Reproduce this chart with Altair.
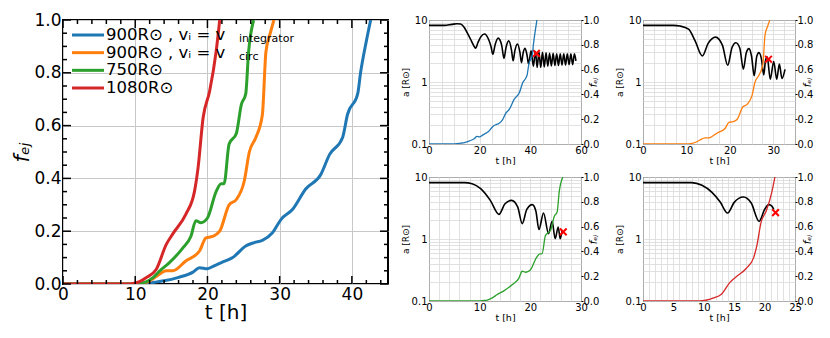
import altair as alt
import pandas as pd

FONT = "DejaVu Sans"

# ---------------- data: ejected fraction f_ej(t) ----------------
blue_t = [0, 10, 12, 13, 14, 16, 18, 18.9, 20, 21, 22, 23.5, 25.3, 26.5, 27.6, 29, 30.2, 31.8, 33.6, 35.7, 36.9, 38.7, 39.4, 40.8, 41.2, 42.0, 42.6]
blue_f = [0, 0, 0.004, 0.008, 0.012, 0.025, 0.045, 0.062, 0.058, 0.07, 0.082, 0.10, 0.144, 0.157, 0.165, 0.194, 0.245, 0.283, 0.36, 0.415, 0.49, 0.554, 0.643, 0.72, 0.80, 0.92, 1.0]

orange_t = [0, 10, 11, 12, 13, 14.3, 15.2, 17, 18.9, 19.8, 20.7, 21.7, 23, 24, 25.1, 25.8, 26.7, 27.6, 28.1, 28.7, 29.2]
orange_f = [0, 0, 0.003, 0.012, 0.03, 0.05, 0.05, 0.087, 0.125, 0.175, 0.18, 0.20, 0.30, 0.32, 0.39, 0.50, 0.555, 0.64, 0.88, 0.95, 1.0]

green_t = [0, 10, 11, 11.5, 12.5, 13.4, 14.7, 16.6, 17.7, 18.4, 19.1, 20, 21.2, 21.9, 22.3, 23, 24, 24.7, 25.3, 25.7, 26.4]
green_f = [0, 0, 0.004, 0.008, 0.025, 0.05, 0.08, 0.137, 0.18, 0.24, 0.232, 0.25, 0.35, 0.38, 0.38, 0.53, 0.57, 0.68, 0.72, 0.88, 1.0]

red_t = [0, 9, 9.7, 10.5, 11.5, 12.9, 14.3, 15.2, 17, 18.2, 18.7, 19.4, 20.3, 21.2, 21.7]
red_f = [0, 0, 0.002, 0.008, 0.024, 0.055, 0.15, 0.19, 0.264, 0.35, 0.44, 0.63, 0.73, 0.88, 1.0]

# ---------------- data: separation a(t) [R_sun] ----------------
tl_t = [0, 6, 9, 11, 12.5, 14, 15, 16.5, 17.6, 18.4, 19.3, 20.5, 21.9, 23.5, 24.5, 25.2, 26.1, 27.3, 28.7, 29.6, 30.4, 31.5, 32.6, 33.2, 33.9, 34.9, 35.9, 36.5, 37.2, 37.9, 38.7, 39.3,
        40.3, 41.2, 42.0, 42.7, 43.4, 44.1, 44.8, 45.5, 46.2, 46.9, 47.6, 48.3, 49.0, 49.7, 50.4, 51.1, 51.8, 52.5, 53.2, 53.9, 54.6, 55.3, 56.0, 56.7, 57.4, 58.0]
tl_a = [8.2, 8.2, 8.5, 8.7, 8.6, 7.5, 6.3, 4.8, 3.9, 3.5, 4.3, 5.4, 5.95, 4.9, 3.7, 2.8, 4.0, 5.1, 3.9, 2.4, 3.6, 4.6, 3.2, 2.2, 3.2, 4.1, 3.0, 2.05, 3.0, 3.5, 2.7, 1.95,
        3.2, 1.8, 3.1, 1.72, 3.05, 1.72, 3.0, 1.75, 2.95, 1.8, 2.9, 1.82, 2.9, 1.85, 2.85, 1.85, 2.85, 1.88, 2.85, 1.88, 2.85, 1.9, 2.85, 1.9, 2.85, 2.2]

tr_t = [0, 7, 8.5, 10.5, 12, 13.65, 15, 16.7, 18.3, 19.5, 20.5, 21.4, 22.3, 23.1, 23.8, 24.4, 25.0, 25.6, 26.2, 26.7, 27.3, 27.8, 28.2, 28.6, 29.3, 30.1, 30.8, 31.4, 32.0, 32.7]
tr_a = [8.2, 8.2, 8.0, 7.1, 4.6, 2.63, 4.2, 5.3, 3.9, 1.86, 3.6, 4.3, 3.5, 1.61, 3.0, 3.46, 2.6, 1.26, 2.6, 2.98, 2.3, 1.30, 2.2, 2.54, 1.11, 2.14, 1.11, 1.94, 1.14, 1.6]

bl_t = [0, 7, 8.5, 10.2, 12.1, 13.8, 15, 16.3, 17.5, 18.4, 19.3, 20.4, 21.1, 21.7, 22.6, 23.6, 24.3, 24.9, 25.5, 25.9, 26.3]
bl_a = [8.1, 8.1, 7.8, 6.5, 4.2, 2.5, 3.7, 4.2, 3.3, 1.77, 3.0, 3.58, 2.8, 1.42, 2.63, 1.22, 1.93, 1.01, 1.56, 1.01, 1.4]

br_t = [0, 8, 9.7, 11.3, 12.7, 13.9, 15.0, 16.5, 17.8, 19.1, 20.0, 20.7, 21.2, 21.5]
br_a = [8.1, 8.1, 7.35, 5.7, 3.95, 2.62, 3.9, 4.75, 3.8, 1.93, 3.0, 3.58, 3.4, 3.0]

# merger markers (t, a)
markers = {"tl": (42.4, 2.9), "tr": (28.9, 2.33), "bl": (26.5, 1.3), "br": (21.8, 2.66)}

# legend
leg_labels = ["900R\u2299 , v\u1d62 = v", "900R\u2299 , v\u1d62 = v", "750R\u2299", "1080R\u2299"]
leg_subs = ["integrator", "circ", "", ""]
leg_colors = ["#1f77b4", "#ff7f0e", "#2ca02c", "#d62728"]

# tick values
main_xmajor = [0, 10, 20, 30, 40]
main_xminor = [2, 4, 6, 8, 12, 14, 16, 18, 22, 24, 26, 28, 32, 34, 36, 38, 42, 44]
main_ymajor = [0.0, 0.2, 0.4, 0.6, 0.8, 1.0]
main_yminor = [0.05, 0.1, 0.15, 0.25, 0.3, 0.35, 0.45, 0.5, 0.55, 0.65, 0.7, 0.75, 0.85, 0.9, 0.95]
log_grid = [0.1, 0.2, 0.3, 0.4, 0.5, 0.6, 0.7, 0.8, 0.9, 1, 2, 3, 4, 5, 6, 7, 8, 9, 10]

BLUE, ORANGE, GREEN, RED = leg_colors

# ---------------- main panel ----------------
W, H = 325, 264
xs = alt.Scale(domain=[0, 45], nice=False, zero=False)
ys = alt.Scale(domain=[0, 1], nice=False)
xax = alt.Axis(values=main_xmajor, grid=True, gridColor="#c8c8c8", gridWidth=1, tickSize=0, domain=False,
               labelFontSize=17, labelFont=FONT, labelPadding=2, labelFlush=False, labelColor="black",
               title="t [h]", titleFontSize=20, titleFont=FONT, titleFontWeight="normal", titleColor="black", titlePadding=0)
yax = alt.Axis(values=main_ymajor, format=".1f", grid=True, gridColor="#c8c8c8", gridWidth=1, tickSize=0, domain=False,
               labelFontSize=17, labelFont=FONT, labelPadding=2, labelFlush=False, labelColor="black",
               title="f\u2091\u2c7c", titleFontSize=21, titleFont=FONT, titleFontWeight="normal", titleFontStyle="italic",
               titleColor="black", titlePadding=1)


def curve(t, f, color, width=3):
    df = pd.DataFrame({"t": t, "f": f})
    return alt.Chart(df).mark_line(color=color, strokeWidth=width, interpolate="monotone", clip=True).encode(
        x=alt.X("t:Q", scale=xs, axis=xax), y=alt.Y("f:Q", scale=ys, axis=yax))


def xticks(vals, length, top):
    df = pd.DataFrame({"t": vals})
    y0 = 0 if top else H
    y1 = length if top else H - length
    return alt.Chart(df).mark_rule(color="black", strokeWidth=1.5).encode(
        x=alt.X("t:Q", scale=xs, axis=xax), y=alt.value(y0), y2=alt.value(y1))


def yticks(vals, length, right):
    df = pd.DataFrame({"f": vals})
    x0 = W if right else 0
    x1 = W - length if right else length
    return alt.Chart(df).mark_rule(color="black", strokeWidth=1.5).encode(
        y=alt.Y("f:Q", scale=ys, axis=yax), x=alt.value(x0), x2=alt.value(x1))


inner = alt.layer(
    curve(blue_t, blue_f, BLUE), curve(orange_t, orange_f, ORANGE),
    curve(green_t, green_f, GREEN), curve(red_t, red_f, RED),
    xticks(main_xmajor, 8, False), xticks(main_xminor, 4, False),
    xticks(main_xmajor, 8, True), xticks(main_xminor, 4, True),
    yticks(main_ymajor, 8, False), yticks(main_yminor, 4, False),
    yticks(main_ymajor, 8, True), yticks(main_yminor, 4, True),
)

leg_df = pd.DataFrame({"row": list(range(len(leg_labels))), "label": leg_labels, "sub": leg_subs, "color": leg_colors})
rowscale = alt.Scale(domain=[0, 3], range=[15, 68])
leg_lines = alt.Chart(leg_df).mark_rule(strokeWidth=3).encode(
    x=alt.value(9), x2=alt.value(41), y=alt.Y("row:Q", scale=rowscale, axis=None),
    color=alt.Color("color:N", scale=None))
leg_text = alt.Chart(leg_df).mark_text(align="left", baseline="middle", fontSize=16.5, font=FONT, color="black").encode(
    x=alt.value(43), y=alt.Y("row:Q", scale=rowscale, axis=None), text="label:N")
leg_sub = alt.Chart(leg_df).mark_text(align="left", baseline="middle", fontSize=11, font=FONT, color="black", dy=4).encode(
    x=alt.value(176), y=alt.Y("row:Q", scale=rowscale, axis=None), text="sub:N")

main = alt.layer(inner, leg_lines, leg_text, leg_sub).resolve_scale(y="independent").properties(
    width=W, height=H, view=alt.ViewConfig(stroke="black", strokeWidth=2))


# ---------------- small panels ----------------
PW, PH = 152, 124


def panel(bt, ba, ct, cf, color, xmax, gstep, lstep, mk):
    xsc = alt.Scale(domain=[0, xmax], nice=False, zero=False)
    vals = []
    v = 0.0
    while v <= xmax + 1e-9:
        vals.append(round(v, 4))
        v += gstep
    xa = alt.Axis(values=vals, labelExpr=f"datum.value % {lstep} === 0 ? datum.label : ''", grid=True,
                  gridColor="#d9d9d9", gridWidth=0.8, tickSize=0, domain=False, labelFontSize=10, labelFont=FONT,
                  labelColor="black", labelFlush=False, labelPadding=1, labelOverlap=False,
                  title="t [h]", titleFontSize=9.5, titleFont=FONT, titleFontWeight="normal", titleColor="black", titlePadding=0)
    ya = alt.Axis(values=log_grid, format="~g",
                  labelExpr="datum.value == 0.1 || datum.value == 1 || datum.value == 10 ? datum.label : ''",
                  grid=True, gridColor="#d9d9d9", gridWidth=0.8, tickSize=0, domain=False, labelFontSize=10,
                  labelFont=FONT, labelColor="black", labelFlush=False, labelPadding=2, labelOverlap=False,
                  minExtent=18, maxExtent=18,
                  title="a [R\u2299]", titleFontSize=9, titleFont=FONT, titleFontWeight="normal", titleColor="black", titlePadding=1)
    ysc = alt.Scale(type="log", domain=[0.1, 10], nice=False)
    yr = alt.Axis(values=main_ymajor, format=".1f", orient="right", grid=False, tickSize=2, tickColor="black",
                  domain=False, labelFontSize=10, labelFont=FONT, labelColor="black", labelFlush=False, labelPadding=0,
                  minExtent=17, maxExtent=17,
                  title="f\u2091\u2c7c", titleFontSize=10, titleFont=FONT, titleFontWeight="normal", titleFontStyle="italic",
                  titleColor="black", titlePadding=0, titleAngle=270)
    bdf = pd.DataFrame({"t": bt, "a": ba})
    black = alt.Chart(bdf).mark_line(color="black", strokeWidth=1.6, interpolate="monotone", clip=True).encode(
        x=alt.X("t:Q", scale=xsc, axis=xa), y=alt.Y("a:Q", scale=ysc, axis=ya))
    mdf = pd.DataFrame({"t": [mk[0]], "a": [mk[1]]})
    cross = alt.Chart(mdf).mark_point(shape="M-1,-1L1,1M-1,1L1,-1", filled=False, color="red", strokeWidth=2, size=45,
                                      opacity=1).encode(
        x=alt.X("t:Q", scale=xsc, axis=xa), y=alt.Y("a:Q", scale=ysc, axis=ya))
    cdf = pd.DataFrame({"t": ct, "f": cf})
    col = alt.Chart(cdf).mark_line(color=color, strokeWidth=1.3, interpolate="monotone", clip=True).encode(
        x=alt.X("t:Q", scale=xsc, axis=xa), y=alt.Y("f:Q", scale=alt.Scale(domain=[0, 1], nice=False), axis=yr))
    left = alt.layer(black, cross)
    return alt.layer(left, col).resolve_scale(y="independent").properties(
        width=PW, height=PH, view=alt.ViewConfig(stroke="black", strokeWidth=1))


tl = panel(tl_t, tl_a, blue_t, blue_f, BLUE, 60, 5, 20, markers["tl"])
tr = panel(tr_t, tr_a, orange_t, orange_f, ORANGE, 35, 2.5, 10, markers["tr"])
bl = panel(bl_t, bl_a, green_t, green_f, GREEN, 30, 2, 10, markers["bl"])
br = panel(br_t, br_a, red_t, red_f, RED, 25, 1, 5, markers["br"])

right = alt.vconcat(
    alt.hconcat(tl, tr, spacing=14),
    alt.hconcat(bl, br, spacing=14),
    spacing=6)

chart = alt.hconcat(main, right, spacing=10).properties(
    padding={"left": 2, "top": 2, "right": 0, "bottom": 0}
).configure(font=FONT)

chart.save("out.html", embed_options={"renderer": "svg", "actions": False})
